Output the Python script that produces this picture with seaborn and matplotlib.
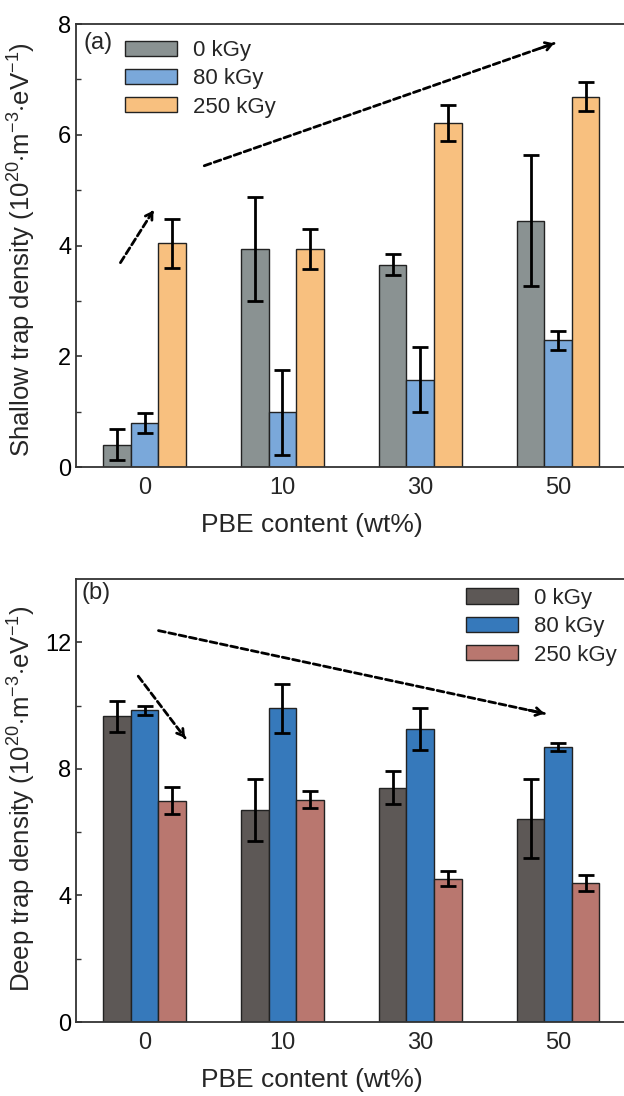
import numpy as np
import pandas as pd
import matplotlib
matplotlib.use("Agg")
import matplotlib.pyplot as plt
import seaborn as sns

# ---------------- data ----------------
pbe_content = ["0", "10", "30", "50"]
doses = ["0 kGy", "80 kGy", "250 kGy"]

shallow_0kGy = [0.40, 3.94, 3.65, 4.45]
shallow_0kGy_err = [0.28, 0.94, 0.19, 1.18]
shallow_80kGy = [0.80, 0.99, 1.58, 2.29]
shallow_80kGy_err = [0.18, 0.77, 0.58, 0.17]
shallow_250kGy = [4.04, 3.94, 6.21, 6.69]
shallow_250kGy_err = [0.44, 0.36, 0.33, 0.26]

deep_0kGy = [9.66, 6.71, 7.41, 6.43]
deep_0kGy_err = [0.49, 0.98, 0.52, 1.26]
deep_80kGy = [9.85, 9.91, 9.26, 8.70]
deep_80kGy_err = [0.15, 0.77, 0.66, 0.12]
deep_250kGy = [7.00, 7.03, 4.53, 4.39]
deep_250kGy_err = [0.44, 0.28, 0.24, 0.26]

colors_a = ["#8a9292", "#7aa8da", "#f8c07f"]
colors_b = ["#5d5856", "#3679bb", "#b9776f"]

# ---------------- style ----------------
sns.set_style("ticks")
plt.rcParams["font.family"] = ["Liberation Sans", "DejaVu Sans"]
plt.rcParams["mathtext.fontset"] = "custom"
plt.rcParams["mathtext.rm"] = "Liberation Sans"
plt.rcParams["mathtext.it"] = "Liberation Sans:italic"
plt.rcParams["axes.edgecolor"] = "#333333"
plt.rcParams["axes.linewidth"] = 1.3


def make_df(v0, v80, v250):
    rows = []
    for dose, vals in zip(doses, [v0, v80, v250]):
        for c, v in zip(pbe_content, vals):
            rows.append({"PBE": c, "Dose": dose, "value": v})
    return pd.DataFrame(rows)


fig = plt.figure(figsize=(6.24, 10.96), dpi=100)
ax_a = fig.add_axes([0.1212, 0.5739, 0.8837, 0.4042])
ax_b = fig.add_axes([0.1212, 0.0675, 0.8837, 0.4042])


def draw_panel(ax, vals, errs, colors, ylim, major, minor, ylabel, ylab_y,
               tag, tag_xy, legend_anchor, arrows):
    df = make_df(*vals)
    sns.barplot(data=df, x="PBE", y="value", hue="Dose", order=pbe_content,
                hue_order=doses, palette=colors, width=0.6, errorbar=None,
                edgecolor="#222222", linewidth=1.0, saturation=1, ax=ax,
                zorder=2)
    for cont, err in zip(ax.containers, errs):
        xs = [p.get_x() + p.get_width() / 2 for p in cont.patches]
        ys = [p.get_height() for p in cont.patches]
        ax.errorbar(xs, ys, yerr=err, fmt="none", ecolor="black",
                    elinewidth=2.0, capsize=5.5, capthick=2.0, zorder=3)
    ax.set_xlim(-0.5, 3.5)
    ax.set_ylim(*ylim)
    ax.set_yticks(major)
    ax.set_yticks(minor, minor=True)
    ax.tick_params(axis="y", which="major", direction="in", length=4,
                   width=1.2, labelsize=17, pad=3, colors="#333333",
                   labelcolor="black")
    ax.tick_params(axis="y", which="minor", direction="in", length=3.5,
                   width=1.0, colors="#333333")
    ax.tick_params(axis="x", which="both", length=0, labelsize=17, pad=7)
    ax.spines["right"].set_visible(False)
    ax.set_xlabel("PBE content (wt%)", fontsize=19)
    ax.set_ylabel(ylabel, fontsize=18.5)
    ax.xaxis.set_label_coords(0.429, -0.104)
    ax.yaxis.set_label_coords(-0.068, ylab_y)
    ax.text(tag_xy[0], tag_xy[1], tag, transform=ax.transAxes, fontsize=17,
            va="center", ha="left")
    ax.legend(loc="upper left", bbox_to_anchor=legend_anchor, frameon=False,
              fontsize=16, handlelength=2.35, handleheight=0.68,
              handletextpad=0.72, labelspacing=0.33, borderpad=0,
              borderaxespad=0)
    for (x0, y0), (x1, y1) in arrows:
        ax.annotate("", xy=(x1, y1), xytext=(x0, y0),
                    arrowprops=dict(arrowstyle="-", lw=2.0, color="black",
                                    linestyle=(0, (2.5, 1.3)),
                                    shrinkA=0, shrinkB=0), zorder=4)
        dx, dy = x1 - x0, y1 - y0
        ax.annotate("", xy=(x1, y1), xytext=(x1 - 0.04 * dx, y1 - 0.04 * dy),
                    arrowprops=dict(arrowstyle="->,head_length=0.45,head_width=0.28",
                                    lw=2.0, color="black",
                                    shrinkA=0, shrinkB=0), zorder=4)


draw_panel(ax_a,
           [shallow_0kGy, shallow_80kGy, shallow_250kGy],
           [shallow_0kGy_err, shallow_80kGy_err, shallow_250kGy_err],
           colors_a, (0, 8), [0, 2, 4, 6, 8], [1, 3, 5, 7],
           r"Shallow trap density (10$^{20}$$\cdot$m$^{-3}$$\cdot$eV$^{-1}$)",
           0.491, "(a)", (0.0145, 0.958), (0.0896, 0.964),
           [((-0.175, 3.69), (0.064, 4.63)), ((0.433, 5.44), (2.97, 7.65))])

draw_panel(ax_b,
           [deep_0kGy, deep_80kGy, deep_250kGy],
           [deep_0kGy_err, deep_80kGy_err, deep_250kGy_err],
           colors_b, (0, 14), [0, 4, 8, 12], [2, 6, 10],
           r"Deep trap density (10$^{20}$$\cdot$m$^{-3}$$\cdot$eV$^{-1}$)",
           0.503, "(b)", (0.011, 0.968), (0.708, 0.980),
           [((-0.046, 10.93), (0.294, 8.98)), ((0.101, 12.37), (2.90, 9.75))])

fig.savefig("out.png", dpi=100)
